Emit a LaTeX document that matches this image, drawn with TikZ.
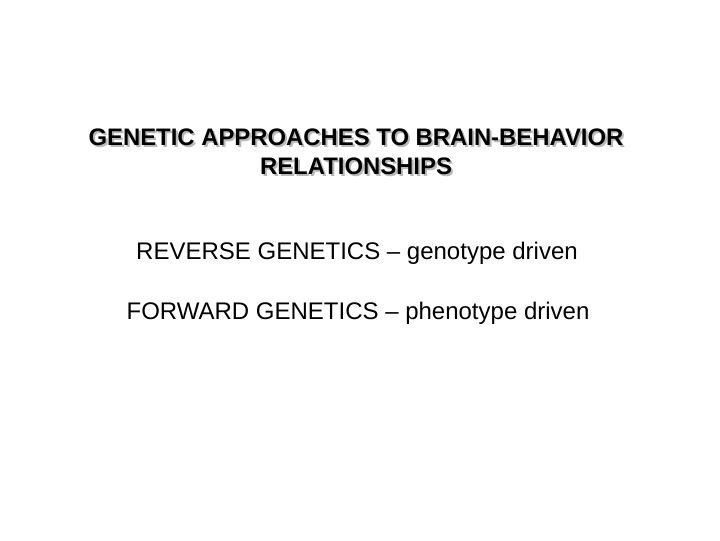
\documentclass[tikz,border=0pt]{standalone}
\usepackage{fontspec}
\setmainfont{Liberation Sans}
\begin{document}
\begin{tikzpicture}[x=0.75pt,y=0.75pt,yscale=-1,xscale=1]
	\tikzset{titletext/.style={font=\fontsize{17.9}{21.8}\selectfont\bfseries,align=center},
		linetext/.style={font=\fontsize{18}{20}\selectfont}}
	\useasboundingbox (0,0) rectangle (720,540);
	
	\node [titletext,color={rgb, 255:red, 185; green, 185; blue, 185 }] (shadow) at (358,154) {GENETIC APPROACHES TO BRAIN-BEHAVIOR\\RELATIONSHIPS};
	\node [titletext] (title) at (356,152) {GENETIC APPROACHES TO BRAIN-BEHAVIOR\\RELATIONSHIPS};
	
	\node [linetext] (reverse) at (357,253) {REVERSE GENETICS -- genotype driven};
	\node [linetext] (forward) at (358,313) {FORWARD GENETICS -- phenotype driven};
	
\end{tikzpicture}
\end{document}
